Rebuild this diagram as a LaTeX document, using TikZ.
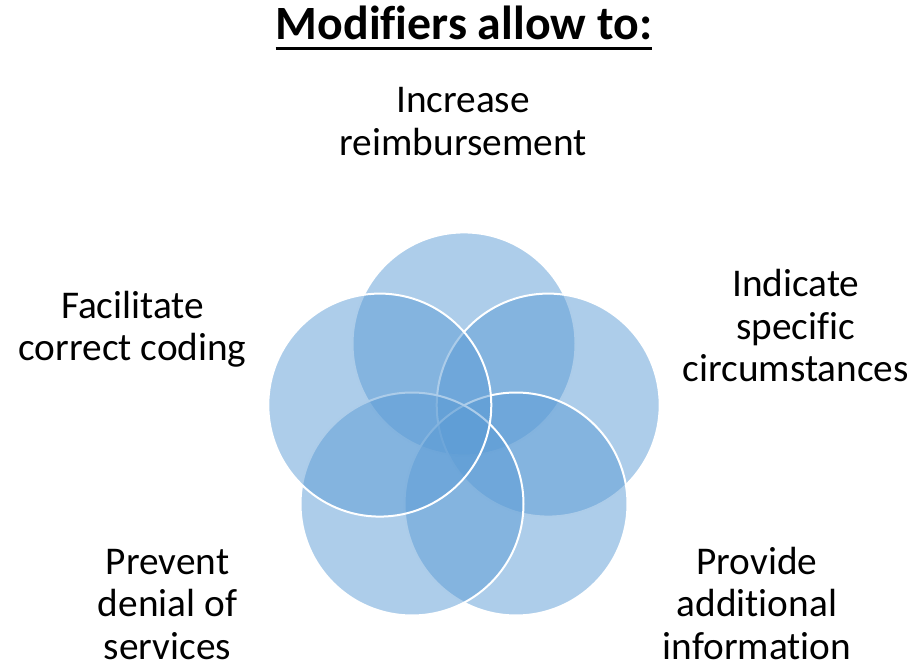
\documentclass[tikz,border=0pt]{standalone}
\usepackage{fontspec}
\setmainfont{Carlito}[Ligatures={NoCommon}]
\definecolor{venn}{RGB}{91,155,213}
\begin{document}
\begin{tikzpicture}[x=1pt,y=-1pt,
  venncircle/.style={circle, minimum size=223pt, inner sep=0pt, fill=venn, fill opacity=0.5, draw=white, draw opacity=1, line width=2pt},
  label/.style={align=center, anchor=base, inner sep=0pt, font=\fontsize{39.3}{42.4}\selectfont}]
\useasboundingbox (0,0) rectangle (914,664);
\node[venncircle] (c1) at (464,343.9) {};
\node[venncircle] (c2) at (548.2,405.1) {};
\node[venncircle] (c3) at (516,504) {};
\node[venncircle] (c4) at (412,504) {};
\node[venncircle] (c5) at (379.8,405.1) {};
\node[anchor=base, inner sep=0pt, font=\fontsize{47.8}{56}\selectfont\bfseries] (title) at (464,39.3) {Modifiers allow to:};
\draw[line width=3pt] ([yshift=-8.7pt]title.base west) -- ([yshift=-8.7pt]title.base east);
\node[label] (l1) at (463,155) {Increase\\reimbursement};
\node[label] (l2) at (795.8,381.7) {Indicate\\specific\\circumstances};
\node[label] (l3) at (757,659) {Provide\\additional\\information};
\node[label] (l4) at (167.5,659) {Prevent\\denial of\\services};
\node[label] (l5) at (132.5,360.7) {Facilitate\\correct coding};
\end{tikzpicture}
\end{document}
